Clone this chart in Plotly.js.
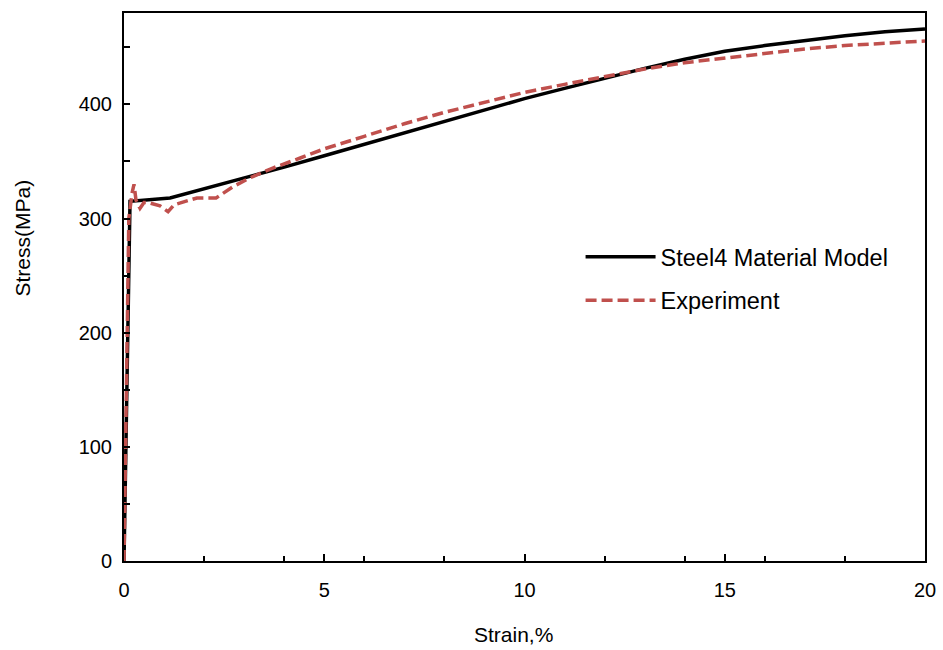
<!DOCTYPE html>
<html>
<head>
<meta charset="utf-8">
<script src="https://cdn.plot.ly/plotly-3.0.1.min.js"></script>
<style>
  html, body { margin: 0; padding: 0; background: #fff; }
  #chart { width: 943px; height: 650px; }
</style>
</head>
<body>
<div id="chart"></div>
<script>
// Steel4 material model curve (strain in %, stress in MPa)
const modelStrain = [0, 0.05, 0.10, 0.15, 1.15, 2, 3, 4, 5, 6, 7, 8, 9, 10, 11, 12, 13, 14, 15, 16, 17, 18, 19, 20];
const modelStress = [0, 110, 220, 315, 318, 326, 335, 345, 355, 365, 375, 385, 395, 405, 414, 423, 431.5, 439.5, 446.5, 451.5, 456, 460, 463.5, 466];

// Measured stress-strain response
const expStrain = [0, 0.05, 0.12, 0.20, 0.25, 0.30, 0.40, 0.50, 0.60, 0.90, 1.10, 1.25, 1.57, 1.82, 2.30, 2.44, 2.73, 3.15, 3.73, 4.4, 5, 6, 7, 8, 9, 10, 11, 12, 13, 14, 15, 16, 17, 18, 19, 20];
const expStress = [0, 120, 300, 322, 330, 316, 309, 314, 314, 311, 306, 312, 315, 318, 318, 321, 328, 335.7, 344.4, 353, 361, 372, 383, 393, 402, 410.5, 417.5, 424.5, 431, 436.5, 440.5, 445, 448.5, 451.5, 453.5, 455.5];

const seriesNames = ['Steel4 Material Model', 'Experiment'];
const xTitle = 'Strain,%';
const yTitle = 'Stress(MPa)';

const font = 'Liberation Sans, Arial, sans-serif';

const traces = [
  {
    x: modelStrain, y: modelStress, name: seriesNames[0], legendgroup: 'a',
    type: 'scatter', mode: 'lines',
    line: { color: '#000000', width: 3.5 }
  },
  {
    x: expStrain, y: expStress, name: seriesNames[1], legendgroup: 'b',
    type: 'scatter', mode: 'lines',
    line: { color: '#C0504D', width: 3.5, dash: '11px,5px' }
  }
];

const layout = {
  width: 943, height: 650,
  margin: { l: 124, r: 18, t: 13, b: 89 },
  paper_bgcolor: '#ffffff', plot_bgcolor: '#ffffff',
  font: { family: font, color: '#000000', size: 20 },
  showlegend: true,
  legend: {
    x: 0.57, y: 0.595, xanchor: 'left', yanchor: 'top',
    bgcolor: 'rgba(0,0,0,0)', font: { size: 23.5 },
    itemwidth: 70, traceorder: 'grouped', tracegroupgap: 10
  },
  // axis titles sit slightly off-centre, so they are placed as paper annotations
  annotations: [
    { text: xTitle, xref: 'paper', yref: 'paper', x: 0.486, y: -0.135,
      xanchor: 'center', yanchor: 'middle', showarrow: false, font: { size: 21 } },
    { text: yTitle, xref: 'paper', yref: 'paper', x: -0.127, y: 0.589, textangle: -90,
      xanchor: 'center', yanchor: 'middle', showarrow: false, font: { size: 21 } }
  ],
  xaxis: {
    range: [0, 20], dtick: 5, tick0: 0,
    ticks: 'inside', ticklen: 7, tickwidth: 2, tickcolor: '#000',
    minor: { dtick: 2, ticks: 'inside', ticklen: 5, tickwidth: 2, tickcolor: '#000' },
    showline: true, linecolor: '#000', linewidth: 2, mirror: true,
    showgrid: false, zeroline: false,
    ticklabelstandoff: 10,
    tickfont: { size: 20 }
  },
  yaxis: {
    range: [0, 480], dtick: 100, tick0: 0,
    ticks: 'inside', ticklen: 6, tickwidth: 2, tickcolor: '#000',
    minor: { dtick: 50, ticks: 'inside', ticklen: 6, tickwidth: 2, tickcolor: '#000' },
    showline: true, linecolor: '#000', linewidth: 2, mirror: true,
    showgrid: false, zeroline: false,
    ticklabelstandoff: 6,
    tickfont: { size: 20 }
  }
};

Plotly.newPlot('chart', traces, layout, { displayModeBar: false, staticPlot: true });
</script>
</body>
</html>
